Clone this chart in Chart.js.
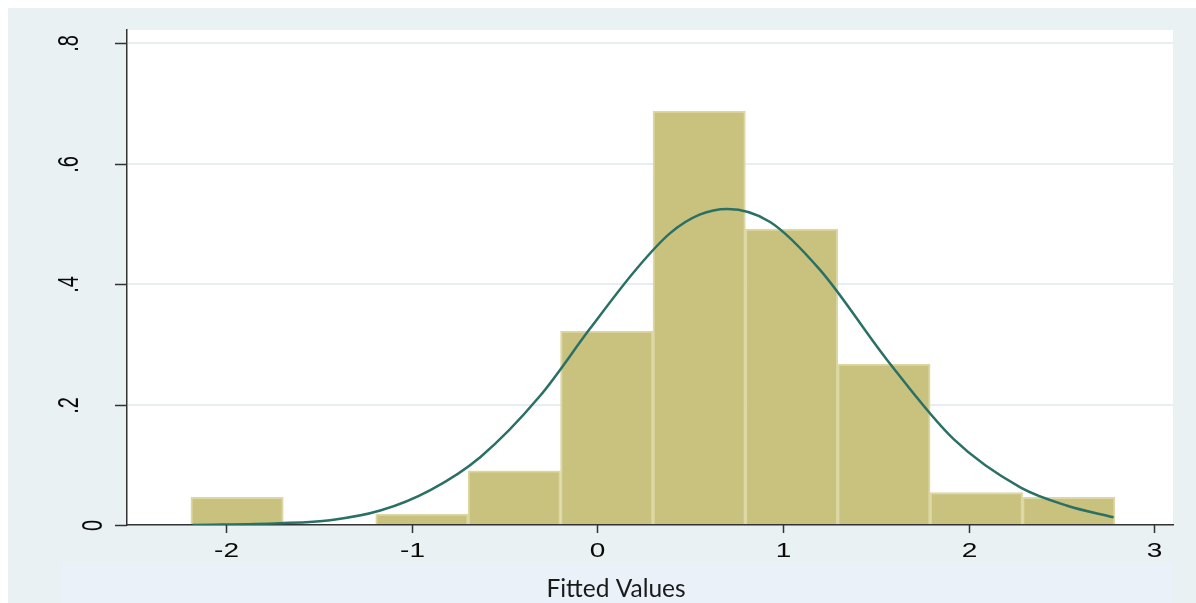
<!DOCTYPE html>
<html>
<head>
<meta charset="utf-8">
<script src="https://cdn.jsdelivr.net/npm/chart.js@4.4.1/dist/chart.umd.min.js"></script>
<style>
    html, body { margin: 0; padding: 0; background: #ffffff; }
    canvas { display: block; }
</style>
</head>
<body>
<canvas id="histChart" width="1196" height="603"></canvas>
<script>
// Histogram bins (edges) and densities
const binEdges = [-2.19, -1.692, -1.194, -0.697, -0.199, 0.299, 0.797, 1.294, 1.792, 2.290, 2.787];
const binDensity = [0.046, 0, 0.018, 0.090, 0.322, 0.687, 0.491, 0.267, 0.054, 0.046];

// Normal density overlay
const curveX = [-2.18, -1.71, -1.44, -1.17, -0.90, -0.63, -0.31, -0.04, 0.21, 0.39, 0.55, 0.70, 0.93, 1.20, 1.56, 1.92, 2.28, 2.53, 2.78];
const curveY = [0.000, 0.003, 0.008, 0.024, 0.058, 0.113, 0.214, 0.326, 0.425, 0.484, 0.515, 0.5245, 0.503, 0.423, 0.274, 0.142, 0.062, 0.032, 0.0128];

// Axis ticks
const xTicks = [-2, -1, 0, 1, 2, 3];
const xTickLabels = ['-2', '-1', '0', '1', '2', '3'];
const yTicks = [0, 0.2, 0.4, 0.6, 0.8];
const yTickLabels = ['0', '.2', '.4', '.6', '.8'];

const xTitle = 'Fitted Values';

const barPoints = binDensity.map((d, i) => ({ x: (binEdges[i] + binEdges[i + 1]) / 2, y: d }));
const curvePoints = curveX.map((x, i) => ({ x: x, y: curveY[i] }));

// Backgrounds, tick marks, rotated labels and title (Stata look)
const stataLook = {
    id: 'stataLook',
    beforeDraw(chart) {
        const ctx = chart.ctx;
        const a = chart.chartArea;
        ctx.save();
        ctx.fillStyle = '#ffffff';
        ctx.fillRect(0, 0, chart.width, chart.height);
        ctx.fillStyle = '#e9f1f3';
        ctx.fillRect(8, 8, chart.width - 8, chart.height - 8);
        ctx.fillStyle = '#eaf1f9';
        ctx.fillRect(62, 562, a.right - 62, chart.height - 562);
        ctx.fillStyle = '#ffffff';
        ctx.fillRect(a.left, a.top, a.right - a.left, a.bottom - a.top);
        ctx.restore();
    },
    afterDraw(chart) {
        const ctx = chart.ctx;
        const a = chart.chartArea;
        const xs = chart.scales.x;
        const ys = chart.scales.y;
        ctx.save();
        ctx.strokeStyle = '#333333';
        ctx.lineWidth = 1.5;
        ctx.fillStyle = '#0a0a0a';
        ctx.font = '20px "Liberation Sans", Arial, sans-serif';

        // x ticks
        xTicks.forEach((v, i) => {
            const px = Math.round(xs.getPixelForValue(v)) + 0.5;
            ctx.beginPath();
            ctx.moveTo(px, a.bottom);
            ctx.lineTo(px, a.bottom + 8);
            ctx.stroke();
            ctx.save();
            ctx.translate(px, 557);
            ctx.scale(1.4, 1);
            ctx.textAlign = 'center';
            ctx.textBaseline = 'alphabetic';
            ctx.fillText(xTickLabels[i], 0, 0);
            ctx.restore();
        });

        // y ticks, labels turned vertical
        yTicks.forEach((v, i) => {
            const py = Math.round(ys.getPixelForValue(v)) + 0.5;
            ctx.beginPath();
            ctx.moveTo(a.left - 12, py);
            ctx.lineTo(a.left, py);
            ctx.stroke();
            const label = yTickLabels[i];
            const bx = label.length > 1 ? 78 : 102;
            ctx.save();
            ctx.translate(bx, py);
            ctx.scale(1.45, 1);
            ctx.rotate(-Math.PI / 2);
            ctx.textAlign = 'center';
            ctx.textBaseline = 'alphabetic';
            ctx.fillText(label, 0, 0);
            ctx.restore();
        });

        // axis title
        ctx.font = '24.5px Lato, "Open Sans", sans-serif';
        ctx.fillStyle = '#1a1a1a';
        ctx.textAlign = 'center';
        ctx.textBaseline = 'alphabetic';
        ctx.fillText(xTitle, 616, 597);
        ctx.restore();
    }
};

const ctx = document.getElementById('histChart').getContext('2d');
const histChart = new Chart(ctx, {
    data: {
        datasets: [
            {
                type: 'line',
                label: 'Normal density',
                data: curvePoints,
                borderColor: '#2a7065',
                borderWidth: 2.5,
                pointRadius: 0,
                cubicInterpolationMode: 'monotone',
                fill: false,
                order: 0
            },
            {
                type: 'bar',
                label: 'Density',
                data: barPoints,
                backgroundColor: '#c9c27f',
                borderColor: '#dcd7a3',
                borderWidth: 2,
                barPercentage: 1,
                categoryPercentage: 1,
                order: 1
            }
        ]
    },
    options: {
        responsive: false,
        animation: false,
        layout: {
            padding: { top: 30, right: 23, left: 0, bottom: 0 }
        },
        plugins: {
            legend: { display: false },
            tooltip: { enabled: false }
        },
        scales: {
            x: {
                type: 'linear',
                offset: false,
                min: -2.534,
                max: 3.10,
                afterBuildTicks: (scale) => { scale.ticks = xTicks.map(v => ({ value: v })); },
                afterFit: (scale) => { scale.height = 78; },
                ticks: { display: false },
                grid: { display: false, drawTicks: false, offset: false },
                border: { display: true, color: '#333333', width: 1.5 }
            },
            y: {
                type: 'linear',
                min: 0,
                max: 0.8216,
                afterBuildTicks: (scale) => { scale.ticks = yTicks.map(v => ({ value: v })); },
                afterFit: (scale) => { scale.width = 127; },
                ticks: { display: false },
                grid: { color: '#e6eef3', lineWidth: 2, drawTicks: false },
                border: { display: true, color: '#333333', width: 1.5 }
            }
        }
    },
    plugins: [stataLook]
});
</script>
</body>
</html>
